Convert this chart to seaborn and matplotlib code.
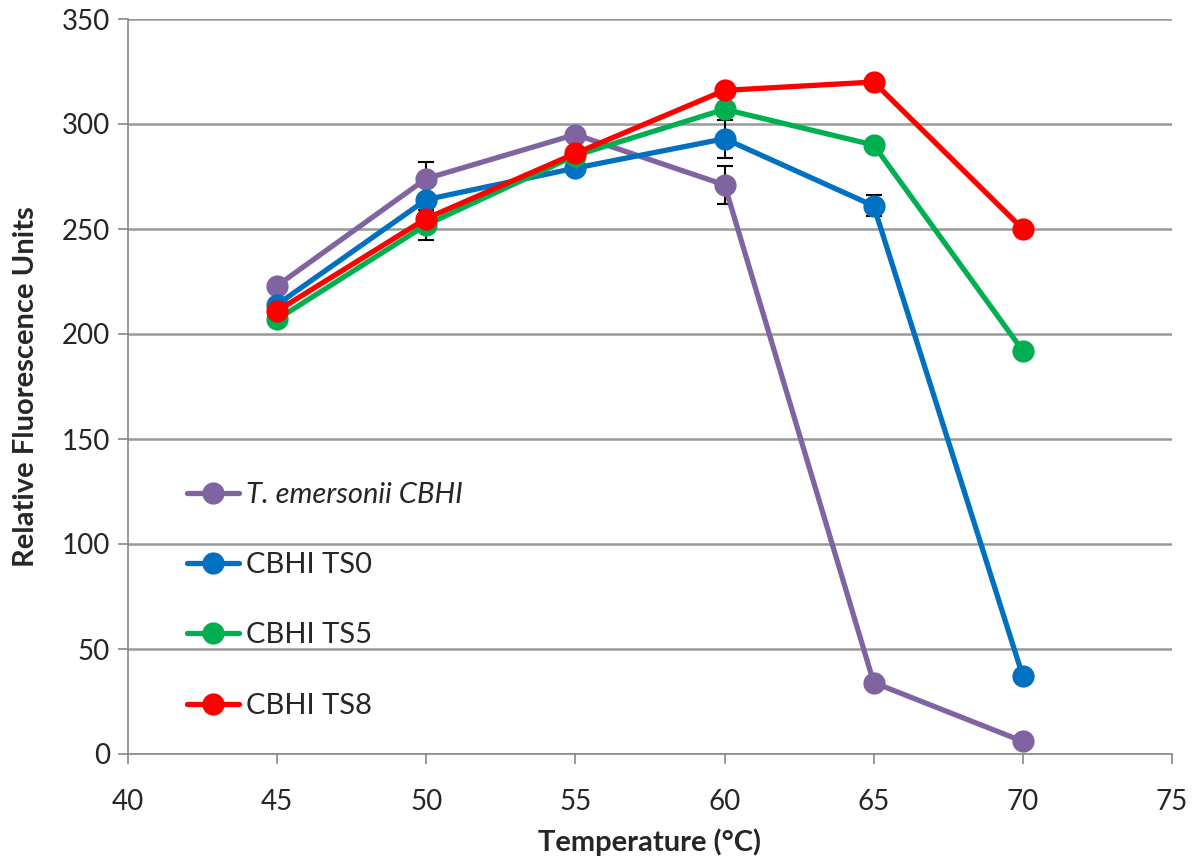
import numpy as np
import pandas as pd
import matplotlib
matplotlib.use("Agg")
import matplotlib.pyplot as plt
import seaborn as sns

temps = [45, 50, 55, 60, 65, 70]
t_emersonii = [223, 274, 295, 271, 34, 6]
ts0 = [214, 264, 279, 293, 261, 37]
ts5 = [207, 252, 285, 307, 290, 192]
ts8 = [211, 255, 286, 316, 320, 250]

err_t_emersonii = [np.nan, 8, np.nan, 9, np.nan, np.nan]
err_ts0 = [np.nan, np.nan, np.nan, 9, 5, np.nan]
err_ts5 = [np.nan, 7, np.nan, np.nan, np.nan, np.nan]
err_ts8 = [np.nan, np.nan, np.nan, np.nan, np.nan, np.nan]

labels = ["T. emersonii CBHI", "CBHI TS0", "CBHI TS5", "CBHI TS8"]
colors = ["#8064A2", "#0070C0", "#00B050", "#FF0000"]
series = [t_emersonii, ts0, ts5, ts8]
errs = [err_t_emersonii, err_ts0, err_ts5, err_ts8]

sns.set_style("white")
plt.rcParams["font.family"] = ["Lato", "DejaVu Sans"]

fig = plt.figure(figsize=(11.99, 8.60), dpi=100)
ax = fig.add_axes([128/1199, 1-754/860, (1172-128)/1199, (754-19)/860])

ax.set_axisbelow(True)
ax.yaxis.grid(True, color="#999999", linewidth=1.8)

rows = []
for lab, vals in zip(labels, series):
    for t, v in zip(temps, vals):
        rows.append({"Temperature": t, "RFU": v, "Series": lab})
df = pd.DataFrame(rows)

for lab, vals, e, c in zip(labels, series, errs, colors):
    ax.errorbar(temps, vals, yerr=e, fmt="none", ecolor="black", elinewidth=1.5,
                capsize=6, capthick=1.5, zorder=1.5)

sns.lineplot(data=df, x="Temperature", y="RFU", hue="Series", hue_order=labels,
             palette=colors, marker="o", markersize=16, linewidth=3.8,
             markeredgewidth=0, ax=ax, zorder=3)

ax.set_xlim(40, 75)
ax.set_ylim(0, 350)
ax.set_xticks(range(40, 76, 5))
ax.set_yticks(range(0, 351, 50))
ax.tick_params(axis="both", labelsize=20, direction="out", length=7, width=1.2,
               color="#888888", left=True, bottom=True)
ax.tick_params(axis="y", pad=6)
ax.tick_params(axis="x", pad=18)
for s in ["top", "right"]:
    ax.spines[s].set_visible(False)
for s in ["left", "bottom"]:
    ax.spines[s].set_color("#888888")
    ax.spines[s].set_linewidth(1.2)

ax.set_xlabel("Temperature (°C)", fontsize=21, fontweight="bold", labelpad=10)
ax.set_ylabel("Relative Fluorescence Units", fontsize=21, fontweight="bold", labelpad=16)

leg = ax.legend(loc="lower left", bbox_to_anchor=(0.045, 0.032), frameon=False,
                fontsize=21, handlelength=1.8, labelspacing=1.52, handletextpad=0.24,
                borderaxespad=0)
leg.get_texts()[0].set_fontstyle("italic")

fig.savefig("out.png", dpi=100)
